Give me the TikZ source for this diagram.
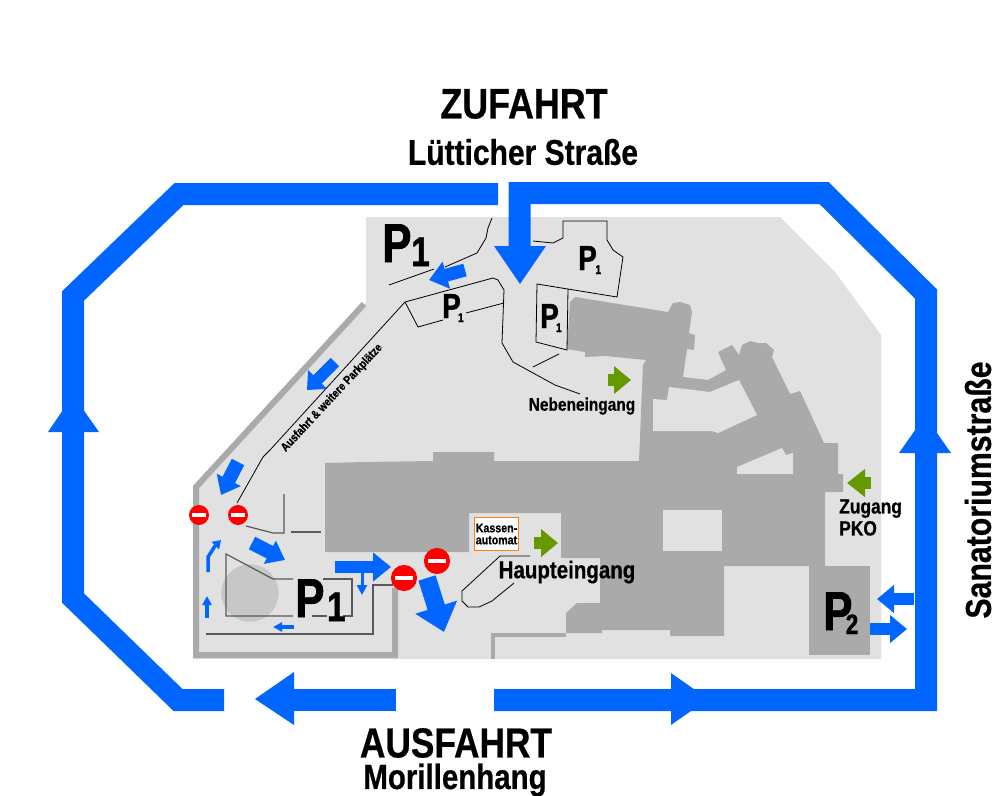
\documentclass[tikz,border=0pt]{standalone}
\usepackage{fontspec}
\usetikzlibrary{arrows.meta}
\newfontfamily\narrowfont[FakeStretch=0.84, BoldFont={Liberation Sans Bold}, BoldFeatures={FakeBold=0.6}]{Liberation Sans}
\newfontfamily\parkfont[FakeStretch=0.8, BoldFont={Liberation Sans Bold}, BoldFeatures={FakeBold=1.4}]{Liberation Sans}
\definecolor{roadblue}{HTML}{0066FF}
\definecolor{groundgray}{HTML}{E1E1E1}
\definecolor{housegray}{HTML}{AAAAAA}
\definecolor{leafgreen}{HTML}{669900}
\definecolor{signred}{HTML}{FF0000}
\definecolor{boxorange}{HTML}{FF7F0E}
\newcommand{\parkmark}[4]{\fontsize{#1}{#1}\parkfont\bfseries P\kern#4pt\raisebox{-3pt}{\fontsize{#2}{#2}\selectfont #3}}
\tikzset{
  label/.style={font=\narrowfont\bfseries, inner sep=0pt, align=center},
  parking/.style={inner sep=0pt, anchor=base west},
  road/.style={draw=roadblue, line width=16.5pt, line join=miter},
  headfill/.style={fill=roadblue},
  thin line/.style={draw=black, line width=0.6pt},
  lot line/.style={draw=black!65, line width=0.9pt},
  block/.style n args={4}{draw=#4, line width=#1*0.75pt,
    -{Triangle[length=#2*0.75pt, width=#3*0.75pt, fill=#4]}},
}
\begin{document}
\begin{tikzpicture}[x=0.75pt, y=-0.75pt]
  \useasboundingbox (0,0) rectangle (1000,796);
  % ground and houses
  \fill[groundgray] (366,217) -- (780,217) -- (835,272) -- (881,335) -- (881,659)
    -- (193,659) -- (193,487) -- (366,303) -- cycle;
  \fill[housegray] (575,297) -- (668,312) -- (673,303) -- (680,302) -- (690,305) -- (692,312)
    -- (689,333) -- (695,335) -- (694,350) -- (687,349) -- (683,377) -- (708,380) -- (726,370)
    -- (718,352) -- (732,345) -- (739,355) -- (742,345) -- (750,341) -- (758,343) -- (766,343)
    -- (774,350) -- (772,357) -- (790,394) -- (800,391) -- (824,443) -- (838,443) -- (838,474)
    -- (843,474) -- (843,492) -- (825,492) -- (825,566) -- (724,566) -- (724,636) -- (670,636)
    -- (670,630) -- (602,630) -- (602,633) -- (566,633) -- (566,613) -- (577,603) -- (600,603)
    -- (600,558) -- (561,558) -- (561,513) -- (469,513) -- (469,552) -- (325,552) -- (325,463)
    -- (365,462) -- (433,461) -- (433,452) -- (494,452) -- (494,461) -- (639,461) -- (643,365)
    -- (646,360) -- (605,356) -- (585,357) -- (585,352) -- (567,349) -- (570,302) -- cycle;
  \fill[housegray] (809,566) rectangle (870,655);
  \fill[groundgray] (653,399) -- (653,431) -- (712,431) -- (718,433) -- (757,415) -- (739,380)
    -- (710,392) -- (669,387) -- (667,400) -- cycle;
  \fill[groundgray] (737,467) -- (737,474) -- (793,474) -- (793,453) -- (786,455) -- (782,448) -- cycle;
  \fill[groundgray] (663,510) rectangle (722,551);
  \fill[black!22] (250,593) circle[radius=21.5pt];
  % walls
  \draw[housegray, line width=4.5pt, line join=miter] (364,304) -- (196,487) -- (196,655) -- (395,655) -- (395,588);
  \draw[housegray, line width=3pt, line join=miter] (493,659) -- (493,635) -- (566,635);
  % roads
  \draw[road] (498,194) -- (179,194) -- (73,296) -- (73,598) -- (178,700) -- (224,700);
  \draw[road] (519.5,246) -- (519.5,193) -- (824,193) -- (926,294) -- (926,700) -- (494,700);
  \draw[road] (294,700) -- (396,700);
  \fill[headfill] (494,246) -- (546,246) -- (520,284) -- cycle;
  \fill[headfill] (48,432) -- (99,432) -- (73,395) -- cycle;
  \fill[headfill] (899,453) -- (951,453) -- (925,416) -- cycle;
  \fill[headfill] (255,699) -- (294,672) -- (294,725) -- cycle;
  \fill[headfill] (671,673) -- (671,725) -- (708,699) -- cycle;
  % lines of the lots
  \draw[thin line] (492,218) -- (488,228) -- (486,238) -- (477,253) -- (445,267);
  \draw[thin line] (434,269) -- (389,285);
  \draw[thin line] (533,241) -- (553,243) -- (563,238) -- (563,221) -- (607,221) -- (607,240)
    -- (613,250) -- (623,257) -- (617,297) -- (537,284) -- (536,342) -- (567,350) -- (568,289);
  \draw[thin line] (237,503) -- (263,457) -- (270,450) -- (405,302) -- (493,278) -- (498,280)
    -- (504,290) -- (502,343) -- (513,362) -- (555,385) -- (580,394);
  \draw[thin line] (504,303) -- (466,313);
  \draw[thin line] (443,320) -- (418,327) -- (405,302);
  \draw[thin line] (533,367) -- (559,354);
  \draw[lot line] (246,526) -- (273,533) -- (284,533) -- (284,494);
  \draw[lot line] (291,532) -- (321,532);
  \draw[lot line] (293,579) -- (273,579) -- (226,554) -- (226,616) -- (293,616);
  \draw[lot line] (323,579) -- (352,579) -- (352,616) -- (343,616);
  \draw[lot line] (312,616) -- (327,616);
  \draw[lot line] (206,634) -- (373,634) -- (373,585) -- (393,585);
  \draw[thin line] (530,556) -- (500,556) -- (462,591) -- (462,601) -- (468,607) -- (479,607)
    -- (492,601) -- (514,583);
  % no entry signs
  \foreach \x/\y/\r in {199/515/7.5, 238/515/7.5, 404/578/9.8, 437/561/9.8} {
    \fill[signred] (\x,\y) circle[radius=\r pt];
    \fill[white] ([xshift=-0.72*\r pt, yshift=-0.17*\r pt]\x,\y) rectangle ([xshift=0.72*\r pt, yshift=0.17*\r pt]\x,\y);
  }
  % blue arrows
  \draw[block={13}{18}{27}{roadblue}] (465,270) -- (429,280);
  \draw[block={12}{15}{26}{roadblue}] (335,362) -- (307,390);
  \draw[block={14}{17}{26}{roadblue}] (238,462) -- (221,495);
  \draw[block={14}{17}{25}{roadblue}] (252,543) -- (285,560);
  \draw[block={12}{18}{28}{roadblue}] (335,567) -- (391,567);
  \draw[block={3}{10}{10}{roadblue}] (362,573) -- (362,595);
  \draw[block={18}{26}{42}{roadblue}] (427,578) -- (444,632);
  \draw[block={3.5}{8}{10}{roadblue}] (208,572) -- (208,557) -- (215,546) -- (221,540);
  \draw[block={3.5}{9}{9}{roadblue}] (207,618) -- (207,596);
  \draw[block={3.5}{9}{9}{roadblue}] (294,627) -- (273,627);
  \draw[block={12}{17}{27}{roadblue}] (914,599) -- (877,599);
  \draw[block={12}{17}{27}{roadblue}] (870,629) -- (907,629);
  % entrances
  \draw[block={12}{17}{27}{leafgreen}] (608,380) -- (631,380);
  \draw[block={12}{17}{27}{leafgreen}] (534,543) -- (558,543);
  \draw[block={12}{18}{27}{leafgreen}] (871,483) -- (847,483);
  % texts
  \node[label, font=\fontsize{32}{32}\narrowfont\bfseries] (zufahrt) at (524,104) {ZUFAHRT};
  \node[label, font=\fontsize{26.8}{26.8}\narrowfont\bfseries] (luetticher) at (523,152) {Lütticher Straße};
  \node[label, font=\fontsize{31.5}{31.5}\narrowfont\bfseries] (ausfahrt) at (456,743) {AUSFAHRT};
  \node[label, font=\fontsize{26.3}{26.3}\narrowfont\bfseries] (morillen) at (455,780) {Morillenhang};
  \node[label, font=\fontsize{27}{27}\narrowfont\bfseries, rotate=90] (sanatorium) at (978,490) {Sanatoriumstraße};
  \node[label, font=\fontsize{13.8}{13.8}\narrowfont\bfseries] (neben) at (582,406) {Nebeneingang};
  \node[label, font=\fontsize{18.3}{18.3}\narrowfont\bfseries] (haupt) at (567,572) {Haupteingang};
  \node[label, font=\fontsize{15.5}{16.5}\narrowfont\bfseries, align=left, anchor=north west] (zugang) at (839,499) {Zugang\\PKO};
  \node[label, font=\fontsize{9}{9}\narrowfont\bfseries, rotate=47] (ausfahrtpark) at (332,398) {Ausfahrt \& weitere Parkplätze};
  \node[draw=boxorange, fill=white, line width=1.2pt, minimum width=33pt, minimum height=24.5pt,
    inner sep=0pt, align=center, font=\fontsize{9.5}{9}\narrowfont\bfseries] (kasse) at (496.5,534) {Kassen-\\automat};
  % parking marks
  \node[parking] (ponetop) at (382,262) {\parkmark{41}{31}{1}{0}};
  \node[parking] (ponebot) at (295,617) {\parkmark{41}{31}{1}{2}};
  \node[parking] (ptwo) at (823,630) {\parkmark{41}{21}{2}{-5}};
  \node[parking] (poneright) at (578,270) {\parkmark{26}{9.5}{1}{-1}};
  \node[parking] (ponemid) at (442,318) {\parkmark{26}{9.5}{1}{-2}};
  \node[parking] (poneleft) at (540,328) {\parkmark{26}{9.5}{1}{-2}};
\end{tikzpicture}
\end{document}
